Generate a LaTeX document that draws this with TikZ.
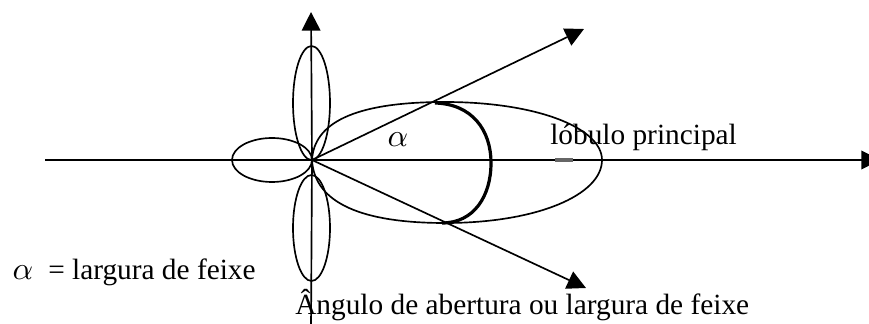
\documentclass[tikz,border=0pt]{standalone}
\usepackage{fontspec}
\setmainfont{Liberation Serif}
\usetikzlibrary{arrows.meta}
\begin{document}
\begin{tikzpicture}[x=0.75pt,y=-0.75pt,
  ln/.style={line width=1.25pt},
  arr/.style={ln,-{Triangle[length=14pt,width=14pt]}},
  lbl/.style={font=\fontsize{22}{26}\selectfont,inner sep=0pt},
  alp/.style={scale=2.4,inner sep=0pt},
  thick arc/.style={line width=2.4pt}]
\useasboundingbox (0,0) rectangle (869,324);
% key points
\coordinate (O) at (312,160);
\coordinate (hL) at (45,160);
\coordinate (hR) at (880,160);
\coordinate (hA) at (820,160);
\coordinate (vT) at (311,12);
\coordinate (vB) at (311,330);
\coordinate (bU) at (584,29);
\coordinate (bD) at (586,288);
% axes
\draw[ln] (hL) -- (hR);
\draw[arr] (hA) -- (hR);
\draw[arr] (O) -- (vT);
\draw[ln] (O) -- (vB);
% side lobes
\draw[ln] (311.5,103) ellipse [x radius=18.5, y radius=57];
\draw[ln] (311.5,228) ellipse [x radius=18.5, y radius=53];
\draw[ln] (272,160) ellipse [x radius=40, y radius=22];
% main lobe
\draw[ln] (O) .. controls (314,124) and (352,102) .. (445,102)
  .. controls (537,102) and (602,128) .. (602,160)
  .. controls (602,195) and (537,223) .. (445,223)
  .. controls (352,223) and (314,198) .. (O);
% beam lines
\draw[arr] (O) -- (bU);
\draw[arr] (O) -- (bD);
% thick arc
\draw[thick arc] (435,103) .. controls (472,104) and (491,130) .. (491,163)
  .. controls (491,196) and (474,223) .. (442,223);
% small dash on axis
\draw[line width=2.4pt,black!60] (555,160) -- (573,160);
% labels
\node[alp,anchor=base west] (a1) at (387,147) {$\alpha$};
\node[lbl,anchor=base west] (lp) at (550,145) {lóbulo principal};
\node[alp,anchor=base west] (a2) at (12,280) {$\alpha$};
\node[lbl,anchor=base west] (lg) at (48,280) {= largura de feixe};
\node[lbl,anchor=base west] (ang) at (295,315) {Ângulo de abertura ou largura de feixe};
\end{tikzpicture}
\end{document}
